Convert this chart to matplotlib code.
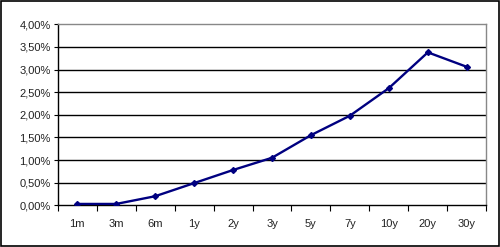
import matplotlib
matplotlib.use("Agg")
import matplotlib.pyplot as plt
from matplotlib.patches import Rectangle
from matplotlib.ticker import FuncFormatter, FixedLocator

# yield curve data
maturities = ["1m", "3m", "6m", "1y", "2y", "3y", "5y", "7y", "10y", "20y", "30y"]
yields = [0.03, 0.03, 0.20, 0.49, 0.78, 1.05, 1.55, 1.98, 2.59, 3.38, 3.06]
y_ticks = [0.0, 0.5, 1.0, 1.5, 2.0, 2.5, 3.0, 3.5, 4.0]

plt.rcParams["font.family"] = ["Liberation Sans", "DejaVu Sans"]

fig = plt.figure(figsize=(5.0, 2.47), dpi=100)
ax = fig.add_axes([57.7 / 500, 1 - 205.3 / 247, (486.3 - 57.7) / 500, (205.3 - 24.3) / 247])

x = list(range(len(maturities)))
ax.plot(x, yields, color="#000080", lw=1.7, marker="D", ms=3, zorder=3)

ax.set_xlim(-0.5, len(maturities) - 0.5)
ax.set_ylim(0, 4)
ax.yaxis.set_major_locator(FixedLocator(y_ticks))
ax.yaxis.set_major_formatter(FuncFormatter(lambda v, p: f"{v:.2f}%".replace(".", ",")))
for v in y_ticks[1:-1]:
    ax.axhline(v, color="black", lw=1, zorder=1)

# category labels in the middle, tick marks between categories
ax.set_xticks(x)
ax.set_xticklabels(maturities)
ax.set_xticks([i - 0.5 for i in range(len(maturities) + 1)], minor=True)
ax.tick_params(axis="x", which="major", length=0, pad=10, labelsize=8, colors="#222222")
ax.tick_params(axis="x", which="minor", length=4, width=0.8, direction="out")
ax.tick_params(axis="y", length=3, width=0.8, labelsize=8, pad=2, colors="black",
               labelcolor="#222222")

for side in ["top", "right"]:
    ax.spines[side].set_color("#888888")
    ax.spines[side].set_linewidth(1)
for side in ["left", "bottom"]:
    ax.spines[side].set_color("black")
    ax.spines[side].set_linewidth(1)

# outer frame around the chart
fig.patches.append(Rectangle((0.002, 0.004), 0.996, 0.992, transform=fig.transFigure,
                             fill=False, edgecolor="black", lw=1.2))

fig.savefig("out.png", dpi=100)
